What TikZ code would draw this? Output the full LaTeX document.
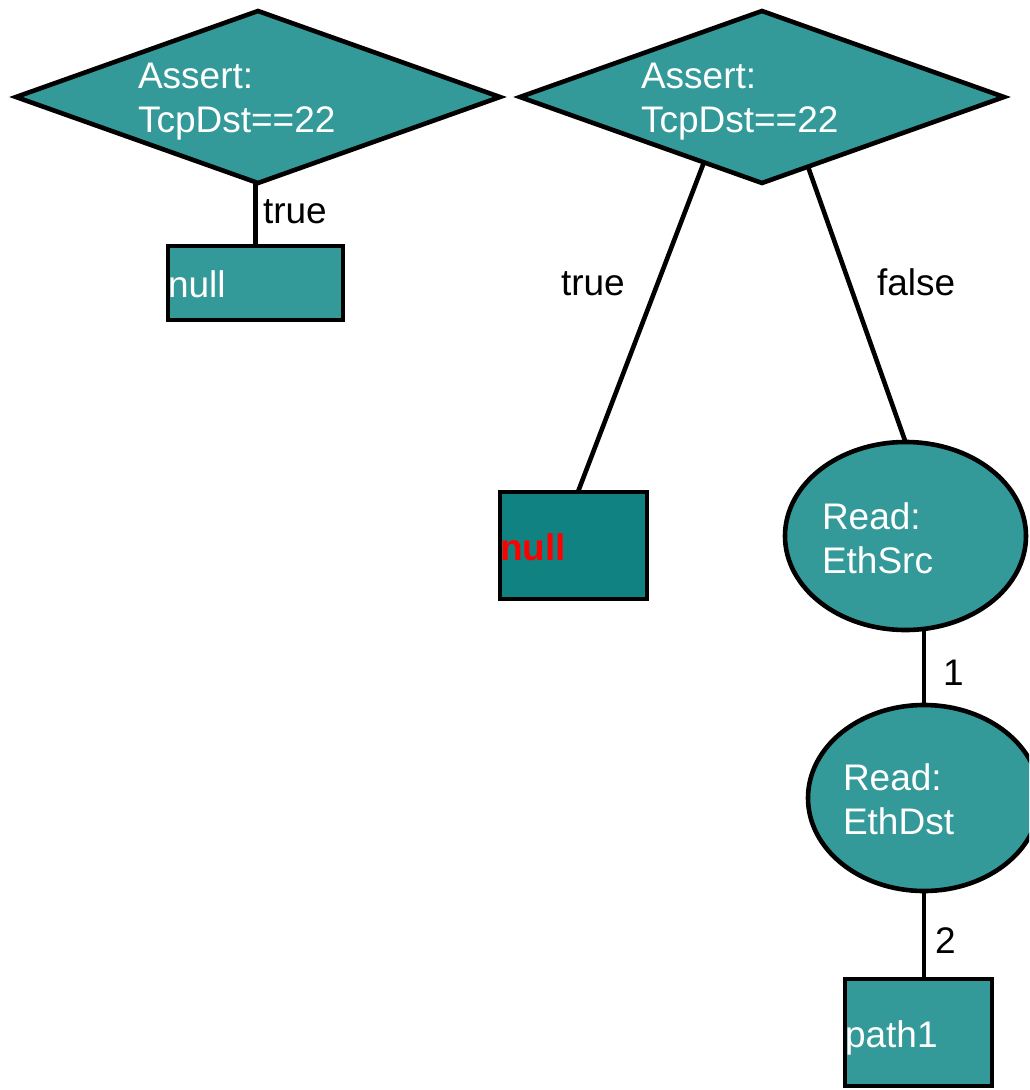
\documentclass[tikz,border=0pt]{standalone}
\usepackage{fontspec}
\setmainfont{Liberation Sans}
\usetikzlibrary{shapes.geometric,calc}
\definecolor{tealfill}{RGB}{52,154,153}
\definecolor{tealdark}{RGB}{17,130,130}
\begin{document}
\begin{tikzpicture}[x=1pt,y=-1pt,
  every node/.style={inner sep=0pt,outer sep=0pt},
  shapeline/.style={draw=black,line width=4.6pt},
  test/.style={shapeline,fill=tealfill,diamond,minimum width=484pt,minimum height=172pt},
  leaf/.style={shapeline,fill=tealfill,rectangle},
  readnode/.style={shapeline,fill=tealfill,ellipse},
  intext/.style={text=white,font=\fontsize{37}{44}\selectfont,align=left,anchor=base west},
  edgelabel/.style={text=black,font=\fontsize{37}{44}\selectfont,anchor=base west},
  link/.style={draw=black,line width=4.6pt}]
\clip (0,0) rectangle (1029,1090);
% decision nodes
\node[test] (d1) at (258,97) {};
\node[test] (d2) at (762,97) {};
% leaves
\node[leaf,minimum width=175pt,minimum height=74pt] (n1) at (255.5,283) {};
\node[leaf,fill=tealdark,minimum width=147pt,minimum height=107pt] (n2) at (573.5,545.5) {};
\node[leaf,minimum width=147pt,minimum height=107pt] (p1) at (918.5,1032.5) {};
% read nodes
\node[readnode,minimum width=241pt,minimum height=188pt] (e1) at (905.5,536) {};
\node[readnode,minimum width=232pt,minimum height=186pt] (e2) at (924,798) {};
% connectors
\draw[link] (n1.north |- d1.south) -- (n1.north);
\draw[link] ($(d2.south)!0.24!(d2.west)$) -- ($(n2.north west)!0.53!(n2.north east)$);
\draw[link] ($(d2.south)!0.19!(d2.east)$) -- (e1.north);
\draw[link] (e1.south -| e2.north) -- (e2.north);
\draw[link] (e2.south) -- (e2.south |- p1.north);
% node texts (a two-line node is placed by its last baseline)
\node[intext] (d1t) at (138,132) {Assert:\\TcpDst==22};
\node[intext] (d2t) at (641,132) {Assert:\\TcpDst==22};
\node[intext] (n1t) at (168,297) {null};
\node[intext,text=red,font=\fontsize{37}{44}\selectfont\bfseries] (n2t) at (500,560) {null};
\node[intext] (e1t) at (822,573) {Read:\\EthSrc};
\node[intext] (e2t) at (843,834) {Read:\\EthDst};
\node[intext] (p1t) at (845,1047) {path1};
% edge labels
\node[edgelabel] (l1) at (263,223) {true};
\node[edgelabel] (l2) at (561,295) {true};
\node[edgelabel] (l3) at (877,295) {false};
\node[edgelabel] (l4) at (943,685) {1};
\node[edgelabel] (l5) at (935,953) {2};
\end{tikzpicture}
\end{document}
